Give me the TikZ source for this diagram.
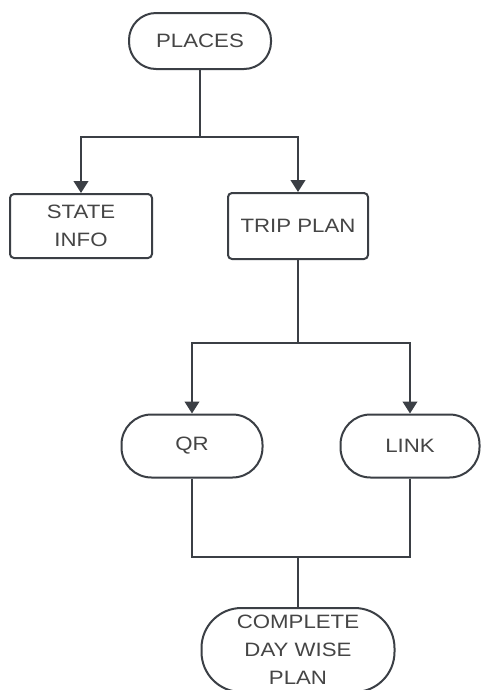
\documentclass[tikz,border=0pt]{standalone}
\usepackage{fontspec}
\setmainfont{Liberation Sans}[FakeStretch=1.15]
\usepackage{tikz}
\usetikzlibrary{arrows.meta,positioning}
\definecolor{edgegray}{HTML}{3B3F45}
\definecolor{textgray}{HTML}{454545}

\begin{document}
\begin{tikzpicture}[x=0.75pt,y=-0.75pt,
  every node/.style={font=\fontsize{14.5}{21}\selectfont,text=textgray,align=center,inner sep=0pt},
  size/.style 2 args={minimum width=#1*0.75pt,minimum height=#2*0.75pt},
  pill/.style={draw=edgegray,line width=1.5pt,fill=white,rounded corners=#1*0.75pt},
  pill/.default=27,
  box/.style={draw=edgegray,line width=1.5pt,fill=white,rounded corners=3pt},
  link/.style={draw=edgegray,line width=1.5pt},
  flow/.style={link,-{Triangle[width=11pt,length=9pt]}}]
\useasboundingbox (0,0) rectangle (480,690);
\node[pill,size={142}{56}] (places) at (200,41) {PLACES};
\node[box,size={142}{64}] (state) at (81,226) {STATE\\INFO};
\node[box,size={140}{66}] (trip) at (298,226) {TRIP PLAN};
\node[pill=30,size={141}{63}] (qr) at (192,446) {QR};
\node[pill=30,size={139}{63}] (linknode) at (410,446) {LINK};
\node[pill=40,size={193}{84}] (plan) at (298,650) {COMPLETE\\DAY WISE\\PLAN};
% junctions
\coordinate (split1) at (200,137);
\coordinate (split2) at (298,343);
\coordinate (merge) at (298,557);
% connectors
\draw[link] (places) -- (split1);
\draw[flow] (split1) -| (state);
\draw[flow] (split1) -| (trip);
\draw[link] (trip) -- (split2);
\draw[flow] (split2) -| (qr);
\draw[flow] (split2) -| (linknode);
\draw[link] (qr) |- (merge);
\draw[link] (linknode) |- (merge);
\draw[link] (merge) -- (plan);
\end{tikzpicture}
\end{document}
